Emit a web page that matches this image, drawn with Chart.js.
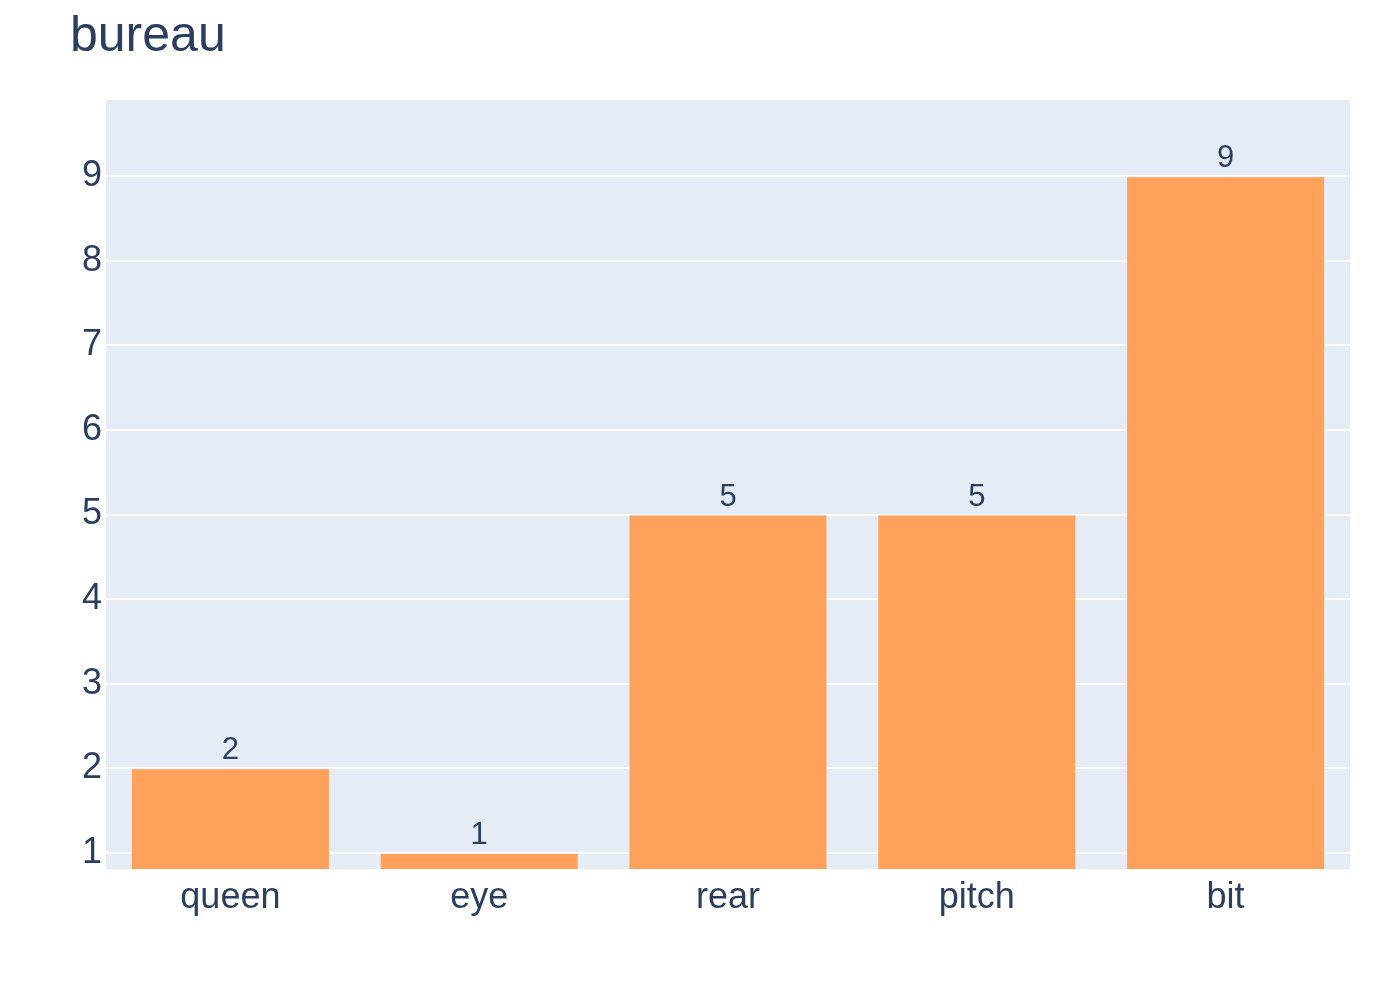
<!DOCTYPE html>
<html>
<head>
<meta charset="utf-8">
<script src="https://cdn.jsdelivr.net/npm/chart.js@4.4.1/dist/chart.umd.min.js"></script>
<style>
  html, body { margin: 0; padding: 0; background: #fff; }
  #wrap { width: 1400px; height: 1000px; }
</style>
</head>
<body>
<div id="wrap"><canvas id="chart" width="1400" height="1000"></canvas></div>
<script>
const categories = ["queen", "eye", "rear", "pitch", "bit"];
const values = [2, 1, 5, 5, 9];
const yTicks = [1, 2, 3, 4, 5, 6, 7, 8, 9];
const titleText = "bureau";

const FONT = "'Liberation Sans', Arial, Helvetica, sans-serif";
const INK = "#2a3f5f";

const plotBg = {
  id: "plotBg",
  beforeDraw(chart) {
    const { ctx, chartArea: a } = chart;
    ctx.save();
    ctx.fillStyle = "#e5ecf6";
    ctx.fillRect(a.left, a.top, a.right - a.left, a.bottom - a.top);
    ctx.restore();
  },
};

const titleDraw = {
  id: "titleDraw",
  afterDraw(chart) {
    const ctx = chart.ctx;
    ctx.save();
    ctx.fillStyle = INK;
    ctx.font = "50px " + FONT;
    ctx.textAlign = "left";
    ctx.textBaseline = "alphabetic";
    ctx.fillText(titleText, 70, 51);
    ctx.restore();
  },
};

const barLabels = {
  id: "barLabels",
  afterDatasetsDraw(chart) {
    const ctx = chart.ctx;
    const meta = chart.getDatasetMeta(0);
    ctx.save();
    ctx.fillStyle = INK;
    ctx.font = "31px " + FONT;
    ctx.textAlign = "center";
    ctx.textBaseline = "alphabetic";
    meta.data.forEach((bar, i) => {
      ctx.fillText(String(values[i]), bar.x, bar.y - 9);
    });
    ctx.restore();
  },
};

new Chart(document.getElementById("chart"), {
  type: "bar",
  data: {
    labels: categories,
    datasets: [
      {
        data: values,
        backgroundColor: "#ffa15a",
        borderColor: "#e5ecf6",
        borderWidth: 1,
        categoryPercentage: 1,
        barPercentage: 0.8,
      },
    ],
  },
  options: {
    responsive: false,
    animation: false,
    layout: { padding: { top: 100, right: 50, left: 0, bottom: 0 } },
    plugins: {
      legend: { display: false },
      tooltip: { enabled: false },
      title: { display: false },
    },
    scales: {
      x: {
        grid: { display: false, drawTicks: false },
        border: { display: false },
        ticks: { color: INK, font: { family: FONT, size: 36 }, padding: 7 },
        afterFit(scale) { scale.height = 131; },
      },
      y: {
        min: 0.81,
        max: 9.9,
        grid: { color: "#ffffff", lineWidth: 2, drawTicks: false },
        border: { display: false },
        ticks: { color: INK, font: { family: FONT, size: 36 }, padding: 4 },
        afterBuildTicks(scale) { scale.ticks = yTicks.map((v) => ({ value: v })); },
        afterFit(scale) { scale.width = 106; },
      },
    },
  },
  plugins: [plotBg, titleDraw, barLabels],
});
</script>
</body>
</html>
